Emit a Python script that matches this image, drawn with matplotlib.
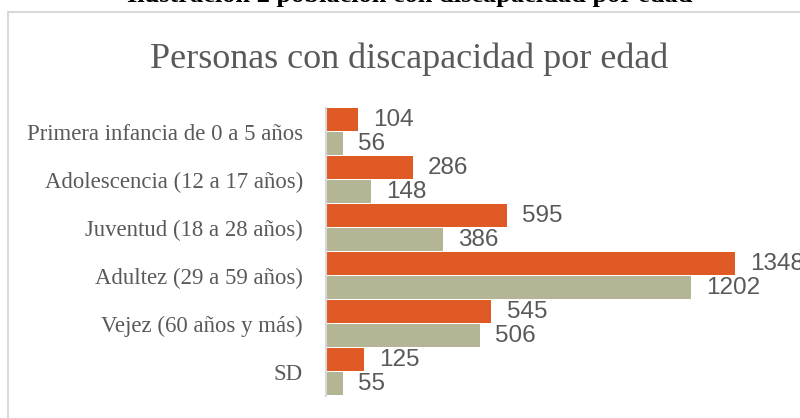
import matplotlib.pyplot as plt
import numpy as np

categorias = ["Primera infancia de 0 a 5 años", "Adolescencia (12 a 17 años)",
              "Juventud (18 a 28 años)", "Adultez (29 a 59 años)",
              "Vejez (60 años y más)", "SD"]
serie_1 = [104, 286, 595, 1348, 545, 125]
serie_2 = [56, 148, 386, 1202, 506, 55]

naranja = "#DF5A24"
caqui = "#B4B594"
gris = "#595959"

fig = plt.figure(figsize=(8, 4.18), dpi=100)

# marco del grafico
fig.add_artist(plt.Rectangle((7.5 / 800, -0.05), 1.0, 1 - 11.8 / 418 + 0.05,
                             transform=fig.transFigure, fill=False,
                             edgecolor="#D9D9D9", linewidth=1.5))

fig.text(0.512, 1 - 2 / 418, "Ilustración 2 población con discapacidad por edad",
         ha="center", va="baseline", fontsize=19, fontweight="bold",
         family="Liberation Serif", color="black")
fig.text(0.511, 1 - 68 / 418, "Personas con discapacidad por edad",
         ha="center", va="baseline", fontsize=26, family="Liberation Serif",
         color=gris)

ax = fig.add_axes([326 / 800, 1 - 395.5 / 418, 474 / 800, 288 / 418])
y = np.arange(len(categorias))
h = 0.49
b1 = ax.barh(y - h / 2 - 0.005, serie_1, height=h, color=naranja)
b2 = ax.barh(y + h / 2 + 0.005, serie_2, height=h, color=caqui)
ax.bar_label(b1, padding=11, fontsize=17.5, color=gris, family="Liberation Sans")
ax.bar_label(b2, padding=11, fontsize=17.5, color=gris, family="Liberation Sans")

ax.set_xlim(0, 1562)
ax.set_ylim(5.5, -0.5)
ax.set_yticks(y)
ax.set_yticklabels(categorias, family="Liberation Serif", fontsize=16.4, color=gris)
ax.tick_params(axis="y", length=0, pad=16.5)
ax.set_xticks([])
for s in ["top", "right", "bottom"]:
    ax.spines[s].set_visible(False)
ax.spines["left"].set_color("#D9D9D9")
ax.spines["left"].set_linewidth(1.5)
for t in ax.texts:
    t.set_clip_on(False)

fig.savefig("out.png", dpi=100)
